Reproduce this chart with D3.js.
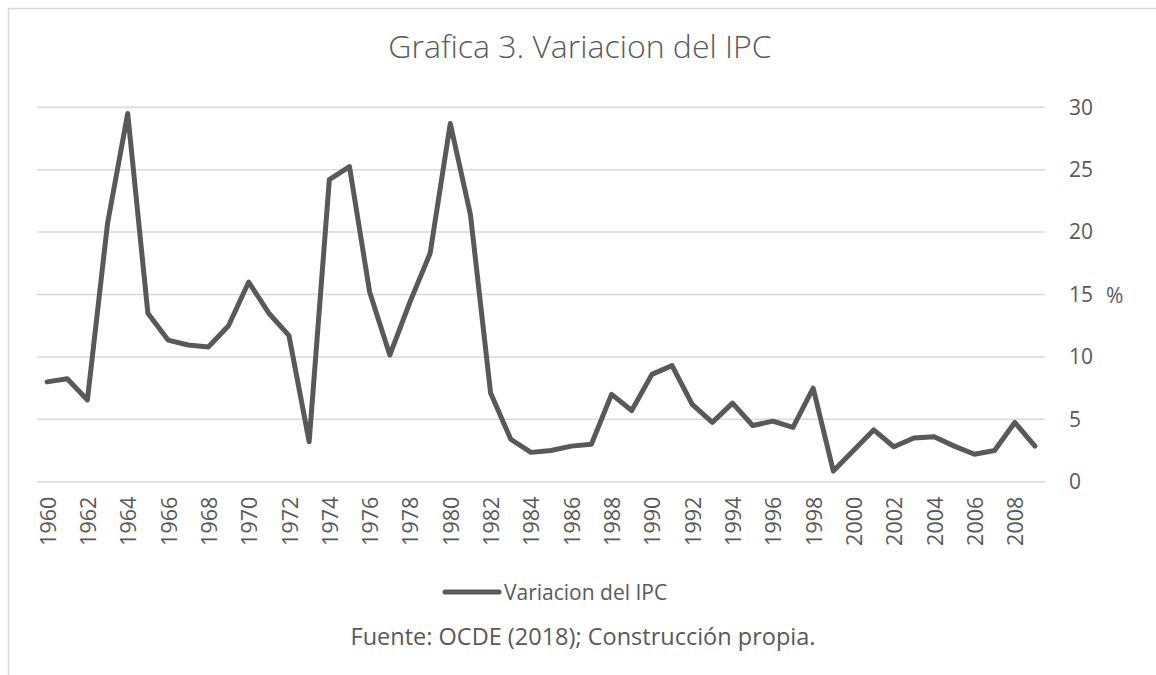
<!DOCTYPE html>
<html>
<head>
<meta charset="utf-8">
<script src="https://cdn.jsdelivr.net/npm/d3@7"></script>
<style>
  body { margin: 0; background: #fff; }
  svg text { font-family: "Open Sans", sans-serif; fill: #595959; }
</style>
</head>
<body>
<svg id="chart" width="1156" height="675"></svg>
<script>
// data
const years = d3.range(1960, 2010).map(String);
const ipc = [
  8.0, 8.25, 6.55, 20.7, 29.5, 13.5, 11.35, 10.95, 10.8, 12.5,
  16.0, 13.5, 11.7, 3.2, 24.2, 25.25, 15.2, 10.15, 14.4, 18.3,
  28.7, 21.4, 7.1, 3.4, 2.35, 2.5, 2.85, 3.0, 7.0, 5.7,
  8.6, 9.3, 6.2, 4.75, 6.3, 4.5, 4.85, 4.35, 7.5, 0.85,
  2.5, 4.15, 2.8, 3.5, 3.6, 2.85, 2.2, 2.5, 4.75, 2.85
];
const yTicks = [0, 5, 10, 15, 20, 25, 30];
const seriesName = "Variacion del IPC";

const svg = d3.select("#chart");
const grey = "#595959";

// chart frame
svg.append("path")
  .attr("d", "M8.5,675 V8.5 H1156")
  .attr("fill", "none")
  .attr("stroke", "#d9d9d9")
  .attr("stroke-width", 1.5);

const x = d3.scaleBand().domain(years).range([37, 1045]);
const y = d3.scaleLinear().domain([0, 30]).range([481.7, 107.3]);

// gridlines
svg.append("g")
  .selectAll("line")
  .data(yTicks)
  .join("line")
  .attr("x1", 37).attr("x2", 1045)
  .attr("y1", d => y(d)).attr("y2", d => y(d))
  .attr("stroke", "#d9d9d9")
  .attr("stroke-width", 1.5);

// right axis labels
const yAxis = svg.append("g")
  .attr("transform", "translate(1060,0)")
  .call(d3.axisRight(y).tickValues(yTicks).tickSize(0).tickPadding(9));
yAxis.select(".domain").remove();
yAxis.selectAll("text")
  .attr("font-size", 21)
  .attr("fill", grey);

svg.append("text")
  .attr("x", 1106).attr("y", y(15))
  .attr("dominant-baseline", "central")
  .attr("font-size", 21)
  .text("%");

// bottom axis labels, every other year
const xAxis = svg.append("g")
  .attr("transform", "translate(0,481.7)")
  .call(d3.axisBottom(x).tickValues(years.filter((d, i) => i % 2 === 0)).tickSize(0));
xAxis.select(".domain").remove();
xAxis.selectAll("text")
  .attr("font-size", 21.5)
  .attr("fill", grey)
  .attr("text-anchor", "end")
  .attr("dominant-baseline", "central")
  .attr("transform", "rotate(-90)")
  .attr("x", -15)
  .attr("y", 0)
  .attr("dy", null);

// the line
const line = d3.line()
  .x((d, i) => x(years[i]) + x.bandwidth() / 2)
  .y(d => y(d));

svg.append("path")
  .datum(ipc)
  .attr("d", line)
  .attr("fill", "none")
  .attr("stroke", grey)
  .attr("stroke-width", 5)
  .attr("stroke-linejoin", "round")
  .attr("stroke-linecap", "round");

// title
svg.append("text")
  .attr("x", 580).attr("y", 58)
  .attr("text-anchor", "middle")
  .attr("font-size", 32)
  .attr("font-weight", 300)
  .text("Grafica 3. Variacion del IPC");

// legend
svg.append("line")
  .attr("x1", 445).attr("x2", 499)
  .attr("y1", 592).attr("y2", 592)
  .attr("stroke", grey)
  .attr("stroke-width", 5)
  .attr("stroke-linecap", "round");
svg.append("text")
  .attr("x", 504).attr("y", 592)
  .attr("dominant-baseline", "central")
  .attr("font-size", 21)
  .text(seriesName);

// source note
svg.append("text")
  .attr("x", 583).attr("y", 645)
  .attr("text-anchor", "middle")
  .attr("font-size", 23.5)
  .text("Fuente: OCDE (2018); Construcción propia.");
</script>
</body>
</html>
